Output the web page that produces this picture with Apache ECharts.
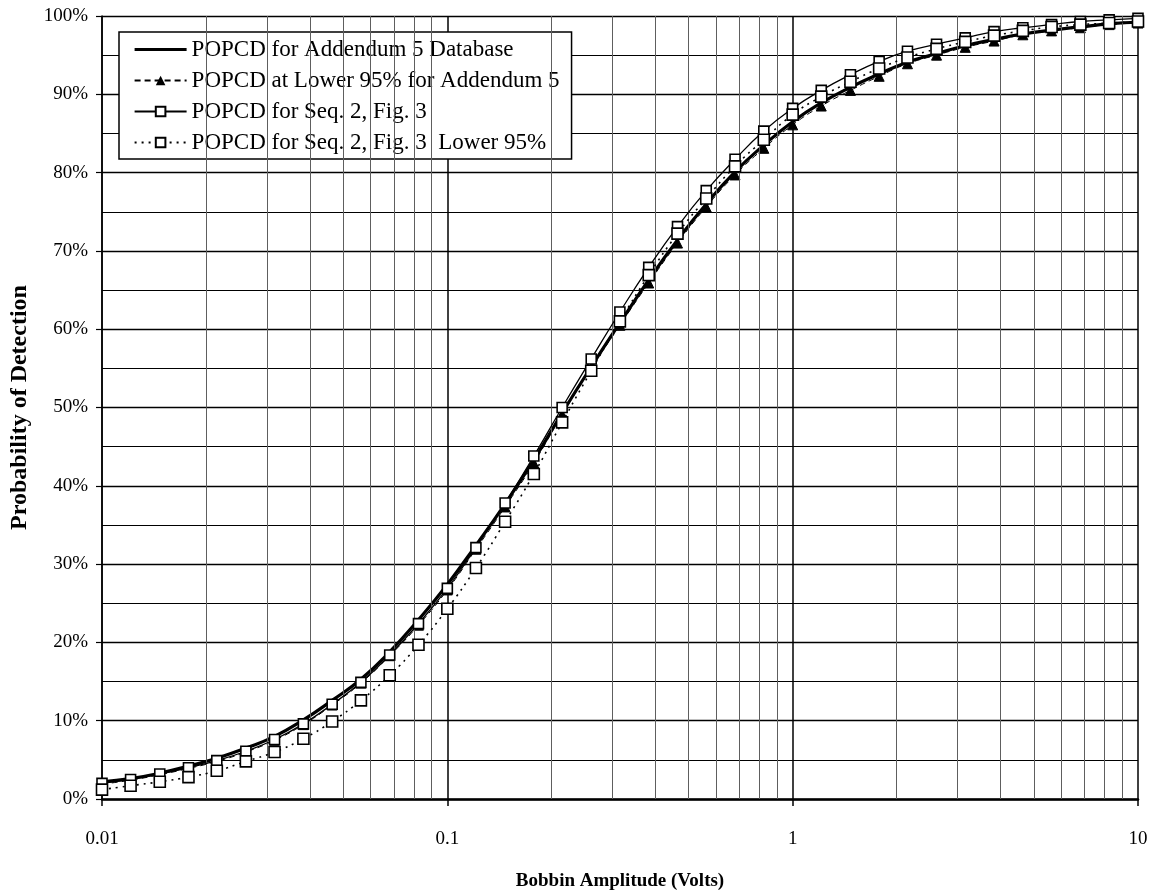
<!DOCTYPE html>
<html>
<head>
<meta charset="utf-8">
<script src="https://cdn.jsdelivr.net/npm/echarts@6/dist/echarts.min.js"></script>
<style>
  html, body { margin: 0; padding: 0; background: #fff; }
  #chart { width: 1157px; height: 894px; }
</style>
</head>
<body>
<div id="chart"></div>
<script>
// bobbin amplitude (volts), one point every 1/12 decade
const volts = [0.01, 0.0121, 0.0147, 0.0178, 0.0215, 0.0261, 0.0316, 0.0383, 0.0464, 0.0562, 0.0681, 0.0825,
  0.1, 0.121, 0.147, 0.178, 0.215, 0.261, 0.316, 0.383, 0.464, 0.562, 0.681, 0.825,
  1, 1.21, 1.47, 1.78, 2.15, 2.61, 3.16, 3.83, 4.64, 5.62, 6.81, 8.25, 10];

// probability of detection (%)
const popcdAdd5 = [2.2, 2.6, 3.3, 4.2, 5.2, 6.5, 8.0, 10.1, 12.6, 15.3, 18.8, 22.9,
  27.4, 32.4, 37.7, 43.3, 49.3, 55.2, 60.8, 66.3, 71.4, 76.0, 80.1, 83.5,
  86.5, 88.9, 90.9, 92.6, 94.1, 95.2, 96.2, 97.0, 97.7, 98.2, 98.6, 99.0, 99.2];
const popcdAdd5Lower = [1.9, 2.4, 3.1, 3.9, 4.8, 6.0, 7.5, 9.5, 12.0, 14.8, 18.3, 22.2,
  26.7, 31.9, 37.3, 42.9, 49.1, 55.0, 60.5, 65.9, 71.0, 75.6, 79.7, 83.1,
  86.1, 88.5, 90.5, 92.3, 93.9, 95.0, 96.0, 96.8, 97.6, 98.1, 98.5, 98.9, 99.1];
const popcdSeq2 = [2.0, 2.5, 3.2, 4.0, 4.9, 6.1, 7.6, 9.6, 12.1, 14.9, 18.4, 22.4,
  26.9, 32.1, 37.8, 43.8, 50.0, 56.2, 62.2, 67.9, 73.1, 77.7, 81.7, 85.3,
  88.2, 90.5, 92.5, 94.2, 95.5, 96.4, 97.2, 98.0, 98.5, 98.9, 99.3, 99.5, 99.7];
const popcdSeq2Lower = [1.2, 1.7, 2.2, 2.8, 3.6, 4.8, 6.0, 7.7, 9.9, 12.6, 15.8, 19.7,
  24.3, 29.5, 35.4, 41.5, 48.1, 54.7, 61.0, 66.9, 72.2, 76.7, 80.8, 84.2,
  87.4, 89.7, 91.6, 93.3, 94.7, 95.8, 96.7, 97.5, 98.1, 98.6, 98.9, 99.1, 99.3];

const seriesNames = [
  'POPCD for Addendum 5 Database',
  'POPCD at Lower 95% for Addendum 5',
  'POPCD for Seq. 2, Fig. 3',
  'POPCD for Seq. 2, Fig. 3  Lower 95%'
];
const xTickLabels = ['0.01', '0.1', '1', '10'];
// minor vertical grid lines (2..9 in each decade)
const minorVolts = [0.02, 0.03, 0.04, 0.05, 0.06, 0.07, 0.08, 0.09,
  0.2, 0.3, 0.4, 0.5, 0.6, 0.7, 0.8, 0.9,
  2, 3, 4, 5, 6, 7, 8, 9];

const serif = 'Liberation Serif, Times New Roman, serif';
const pairs = (ys) => volts.map((v, i) => [v, ys[i]]);

const myChart = echarts.init(document.getElementById('chart'));

const option = {
  animation: false,
  backgroundColor: '#fff',
  textStyle: { fontFamily: serif, color: '#000' },
  grid: { left: 102, right: 19, top: 16, bottom: 95, containLabel: false, outerBoundsMode: 'none' },
  legend: {
    orient: 'vertical',
    left: 119,
    top: 32,
    padding: [6, 12, 5, 14],
    itemGap: 8,
    itemWidth: 52,
    itemHeight: 12,
    backgroundColor: '#fff',
    borderColor: '#000',
    borderWidth: 1.5,
    borderRadius: 0,
    textStyle: { fontFamily: serif, fontSize: 23, color: '#000', lineHeight: 23 },
    data: [
      // thick curve has no marker in the key
      { name: seriesNames[0], itemStyle: { opacity: 0 }, lineStyle: { width: 3.2 } },
      seriesNames[1],
      seriesNames[2],
      seriesNames[3]
    ]
  },
  xAxis: {
    type: 'log',
    logBase: 10,
    min: 0.01,
    max: 10,
    name: 'Bobbin Amplitude (Volts)',
    nameLocation: 'middle',
    nameGap: 73,
    nameTextStyle: { fontFamily: serif, fontSize: 19, fontWeight: 'bold', color: '#000' },
    axisLine: { show: true, lineStyle: { color: '#000', width: 2.5 } },
    axisTick: { show: true, length: 7, lineStyle: { color: '#000', width: 1.5 } },
    axisLabel: {
      margin: 31,
      fontFamily: serif,
      fontSize: 19,
      color: '#000',
      formatter: (v) => xTickLabels[Math.round(Math.log10(v)) + 2]
    },
    splitLine: { show: true, lineStyle: { color: '#000', width: 1.5 } },
    minorTick: { show: false },
    minorSplitLine: { show: false }
  },
  yAxis: {
    type: 'value',
    min: 0,
    max: 100,
    interval: 10,
    name: 'Probability of Detection',
    nameLocation: 'middle',
    nameGap: 70,
    nameTextStyle: { fontFamily: serif, fontSize: 24, fontWeight: 'bold', color: '#000' },
    axisLine: { show: true, lineStyle: { color: '#000', width: 1.5 } },
    axisTick: { show: true, length: 6, lineStyle: { color: '#000', width: 1.2 } },
    axisLabel: { margin: 14, fontFamily: serif, fontSize: 19, color: '#000', formatter: '{value}%' },
    splitLine: { show: true, lineStyle: { color: '#000', width: 1.3 } },
    minorTick: { show: false, splitNumber: 2 },
    minorSplitLine: { show: true, lineStyle: { color: '#000', width: 1 } }
  },
  series: [
    {
      // only carries the minor log grid lines
      type: 'line',
      data: [],
      silent: true,
      z: 1,
      markLine: {
        silent: true,
        symbol: 'none',
        label: { show: false },
        lineStyle: { color: '#5e5e5e', width: 1, type: 'solid' },
        data: minorVolts.map((v) => ({ xAxis: v }))
      }
    },
    {
      name: seriesNames[0],
      type: 'line',
      smooth: true,
      symbol: 'none',
      z: 3,
      lineStyle: { color: '#000', width: 3.2 },
      itemStyle: { color: '#000' },
      data: pairs(popcdAdd5)
    },
    {
      name: seriesNames[1],
      type: 'line',
      smooth: true,
      symbol: 'triangle',
      symbolSize: 10,
      z: 4,
      lineStyle: { color: '#000', width: 1, type: [6, 4] },
      itemStyle: { color: '#000', borderColor: '#000' },
      data: pairs(popcdAdd5Lower)
    },
    {
      name: seriesNames[2],
      type: 'line',
      smooth: true,
      symbol: 'rect',
      symbolSize: 10,
      z: 5,
      lineStyle: { color: '#000', width: 1.3 },
      itemStyle: { color: '#fff', borderColor: '#000', borderWidth: 1.6 },
      data: pairs(popcdSeq2)
    },
    {
      name: seriesNames[3],
      type: 'line',
      smooth: true,
      symbol: 'rect',
      symbolSize: 11,
      z: 6,
      lineStyle: { color: '#000', width: 1.6, type: [2, 5] },
      itemStyle: { color: '#fff', borderColor: '#000', borderWidth: 1.6 },
      data: pairs(popcdSeq2Lower)
    }
  ]
};

myChart.setOption(option);
</script>
</body>
</html>
